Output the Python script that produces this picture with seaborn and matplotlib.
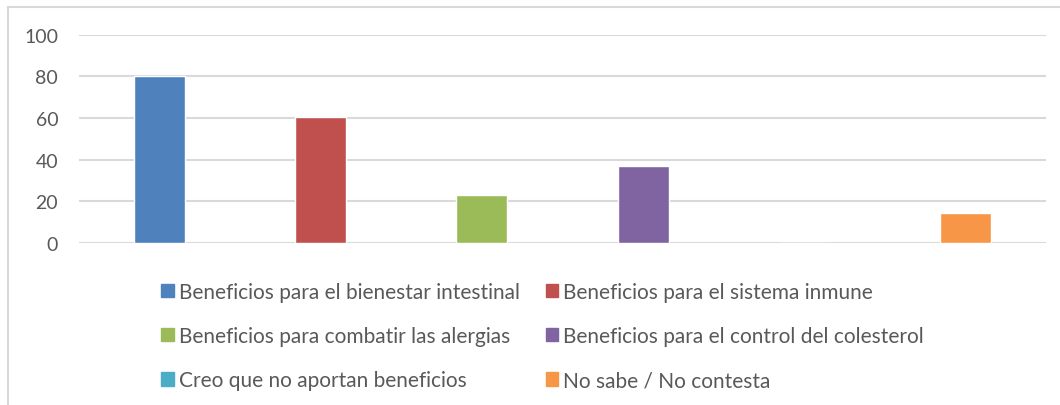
import matplotlib
matplotlib.use("Agg")
import matplotlib.pyplot as plt
import matplotlib.patches as mpatches
import seaborn as sns
import pandas as pd

categories = [
    "Beneficios para el bienestar intestinal",
    "Beneficios para el sistema inmune",
    "Beneficios para combatir las alergias",
    "Beneficios para el control del colesterol",
    "Creo que no aportan beneficios",
    "No sabe / No contesta",
]
values = [80, 60.5, 23, 37, 0, 14.5]
colors = ["#4f81bd", "#c0504d", "#9bbb59", "#8064a2", "#4bacc6", "#f79646"]
yticks = [0, 20, 40, 60, 80, 100]

sns.set_theme(style="white")
plt.rcParams["font.family"] = ["Lato", "DejaVu Sans"]

df = pd.DataFrame({"cat": categories, "val": values})

W, H = 1060, 406
fig = plt.figure(figsize=(W / 100, H / 100), dpi=100)

# light frame around the chart area
fig.patches.append(mpatches.Rectangle((8 / W, -0.1), 1.2, (H - 8) / H + 0.1,
                                      transform=fig.transFigure, fill=False,
                                      edgecolor="#d9d9d9", linewidth=1.5))

ax = fig.add_axes([79 / W, (H - 244) / H, (1046 - 79) / W, (244 - 35.5) / H])
sns.barplot(data=df, x="cat", y="val", hue="cat", palette=colors,
            width=0.317, legend=False, ax=ax, saturation=1)

ax.set_ylim(0, 100)
ax.set_yticks(yticks)
ax.set_xlabel("")
ax.set_ylabel("")
ax.set_xticks([])
ax.grid(axis="y", color="#d9d9d9", linewidth=1.5)
ax.set_axisbelow(True)
for s in ax.spines.values():
    s.set_visible(False)
ax.tick_params(axis="y", length=0, pad=15, labelsize=14, labelcolor="#595959")

# legend is filled row by row, matplotlib fills columns -> reorder
order = [0, 2, 4, 1, 3, 5]
handles = [mpatches.Patch(color=colors[i], label=categories[i]) for i in order]
fig.legend(handles=handles, ncol=2, frameon=False, loc="upper left",
           bbox_to_anchor=(161 / W, (H - 283) / H),
           fontsize=15, labelcolor="#595959",
           handlelength=0.6, handleheight=0.6, handletextpad=0.25,
           columnspacing=1.25, labelspacing=1.16, borderaxespad=0, borderpad=0)

fig.savefig("out.png", dpi=100)
